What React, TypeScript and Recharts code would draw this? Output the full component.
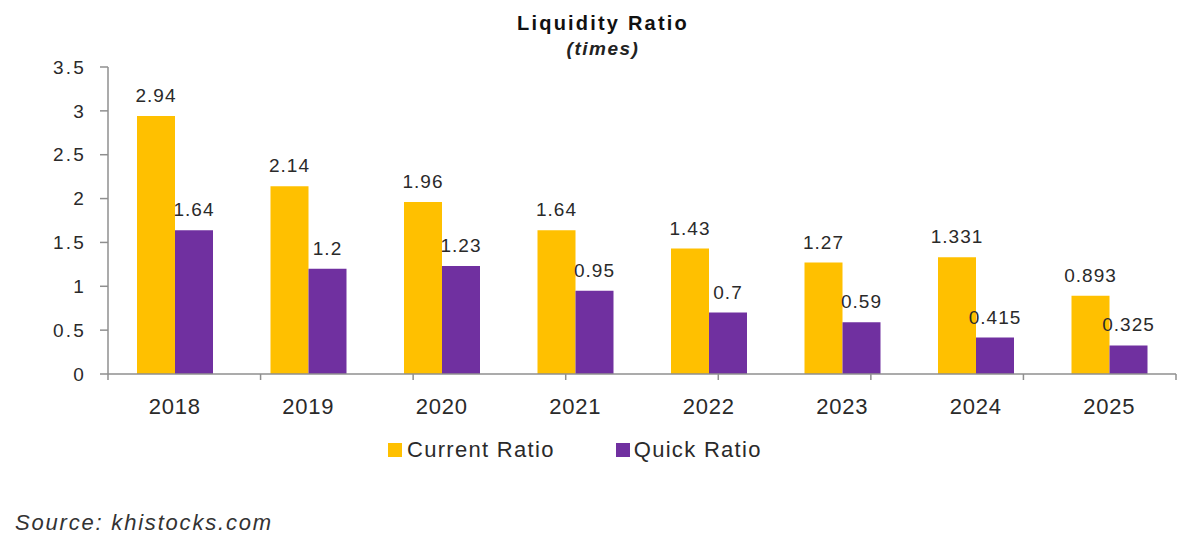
import React from 'react';
import { BarChart, Bar, XAxis, YAxis, LabelList } from 'recharts';

const years = ['2018', '2019', '2020', '2021', '2022', '2023', '2024', '2025'];
const currentRatio = [2.94, 2.14, 1.96, 1.64, 1.43, 1.27, 1.331, 0.893];
const quickRatio = [1.64, 1.2, 1.23, 0.95, 0.7, 0.59, 0.415, 0.325];
const yTicks = [0, 0.5, 1, 1.5, 2, 2.5, 3, 3.5];
const boundaryTicks = [0, 1, 2, 3, 4, 5, 6, 7, 8];

const data = years.map((y, i) => ({ year: y, current: currentRatio[i], quick: quickRatio[i] }));

const FONT = '"Liberation Sans", Arial, sans-serif';
const YELLOW = '#FFC000';
const PURPLE = '#7030A0';
const AXIS = '#8f8f8f';
const TEXT = '#2a2a2a';

export default function App() {
  return (
    <div style={{ position: 'fixed', left: 0, top: 0, width: 1200, height: 539, background: '#fff', fontFamily: FONT }}>
      <div style={{ position: 'absolute', left: 453, width: 300, top: 12, textAlign: 'center', fontWeight: 'bold', fontSize: 20, color: '#111', letterSpacing: 2.2 }}>
        Liquidity Ratio
      </div>
      <div style={{ position: 'absolute', left: 453, width: 300, top: 38, textAlign: 'center', fontStyle: 'italic', fontWeight: 'bold', fontSize: 19, color: '#222', letterSpacing: 1.5 }}>
        (times)
      </div>
      <BarChart
        width={1200}
        height={539}
        data={data}
        margin={{ top: 67, right: 24, left: 48, bottom: 134 }}
        barGap={0}
        style={{ position: 'absolute', left: 0, top: 0 }}
      >
        <XAxis
          xAxisId="cat"
          dataKey="year"
          height={30}
          axisLine={false}
          tickLine={false}
          tickSize={0}
          tickMargin={23}
          tick={{ fill: TEXT, fontSize: 22, fontFamily: FONT, letterSpacing: 0.8 }}
          interval={0}
        />
        <XAxis
          xAxisId={0}
          type="number"
          domain={[0, 8]}
          ticks={boundaryTicks}
          interval={0}
          allowDataOverflow
          height={1}
          stroke={AXIS}
          tickSize={6}
          tickFormatter={() => ''}
          axisLine={{ stroke: AXIS, strokeWidth: 1.5 }}
          tickLine={{ stroke: AXIS, strokeWidth: 1.5 }}
        />
        <YAxis
          width={60}
          domain={[0, 3.5]}
          ticks={yTicks}
          interval={0}
          axisLine={{ stroke: AXIS, strokeWidth: 1.5 }}
          tickLine={{ stroke: AXIS, strokeWidth: 1.5 }}
          tickSize={8}
          tickMargin={14}
          tick={{ fill: TEXT, fontSize: 19, fontFamily: FONT, letterSpacing: 2.2 }}
        />
        <Bar xAxisId="cat" dataKey="current" fill={YELLOW} barSize={38} isAnimationActive={false}>
          <LabelList dataKey="current" position="top" offset={14} fill={TEXT} fontSize={19} fontFamily={FONT} letterSpacing={1} />
        </Bar>
        <Bar xAxisId="cat" dataKey="quick" fill={PURPLE} barSize={38} isAnimationActive={false}>
          <LabelList dataKey="quick" position="top" offset={14} fill={TEXT} fontSize={19} fontFamily={FONT} letterSpacing={1} />
        </Bar>
      </BarChart>
      <div style={{ position: 'absolute', top: 437, left: 388, display: 'flex', alignItems: 'center', fontSize: 22, color: TEXT, letterSpacing: 1.3 }}>
        <span style={{ display: 'inline-block', width: 14, height: 14, background: YELLOW, marginRight: 5 }} />
        <span>Current Ratio</span>
        <span style={{ display: 'inline-block', width: 14, height: 14, background: PURPLE, marginLeft: 61, marginRight: 4 }} />
        <span>Quick Ratio</span>
      </div>
      <div style={{ position: 'absolute', top: 510, left: 15, fontStyle: 'italic', fontSize: 22, color: '#333', letterSpacing: 1.8 }}>
        Source: khistocks.com
      </div>
    </div>
  );
}
